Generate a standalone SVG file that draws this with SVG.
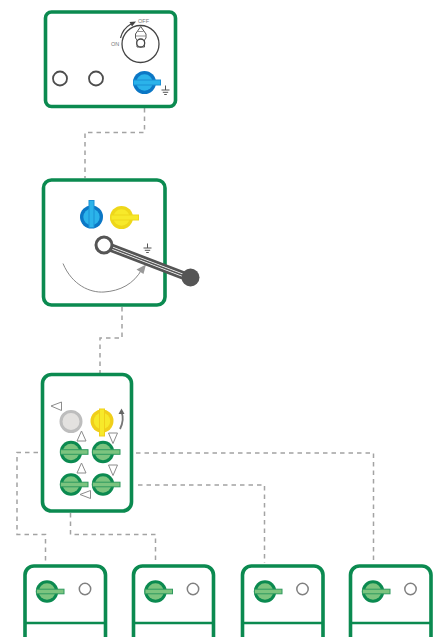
<svg xmlns="http://www.w3.org/2000/svg" width="436" height="637" viewBox="0 0 436 637">
<style>
.box{fill:#fff;stroke:#0b8a50;stroke-width:3.600}
.rule{fill:none;stroke:#0b8a50;stroke-width:2.400}
.conn{fill:none;stroke:#a3a3a3;stroke-width:1.500;stroke-dasharray:4.500 4}
.lamp{fill:#fff;stroke:#4d4d4d;stroke-width:1.800}
.lampg{fill:#fff;stroke:#808080;stroke-width:1.500}
.tri{fill:#fff;stroke:#8c8c8c;stroke-width:1;stroke-linejoin:round}
.ln{fill:none;stroke:#555;stroke-width:1}
.lab{font-family:"Liberation Sans",Arial,sans-serif;font-size:5.500px;fill:#777}
</style>
<defs>
<g id="gsw"><circle r="11.200" fill="#0b8a50"/><circle r="8.200" fill="#7cc47f"/><rect x="-10.500" y="-2.300" width="27.500" height="4.600" fill="#7cc47f" stroke="#2f9a5f" stroke-width="1"/></g>
<g id="earth" class="ln"><path d="M0-4.500V0M-4 0H4M-2.700 2.300H2.700M-1.300 4.500H1.300"/></g>
</defs>
<g id="connectors">
<path class="conn" d="M144.500 108V132.500H85V178"/>
<path class="conn" d="M122 307V338H100V373"/>
<path class="conn" d="M38 452.500H17V534.500H45.500V563"/>
<path class="conn" d="M70.500 513V534.500H155.500V563"/>
<path class="conn" d="M138 485H264.500V563"/>
<path class="conn" d="M136 453H373.500V563"/>
</g>
<g id="node-top">
<rect class="box" x="45.500" y="12" width="130" height="94.500" rx="6"/>
<circle cx="140.500" cy="44" r="18.500" fill="#fff" stroke="#444" stroke-width="1.300"/>
<path d="M135.500 34 140.700 26.500 146 34V38L144.500 40V47H137V40L135.500 38Z" fill="#fff" stroke="#555" stroke-width="1"/>
<path d="M138 31.500H143.500M136 36H145.500" stroke="#777" stroke-width=".8"/>
<circle cx="140.700" cy="43" r="4" fill="#fff" stroke="#444" stroke-width="1.300"/>
<path d="M120.500 38A22 22 0 0 1 131 24" fill="none" stroke="#444" stroke-width="1.200"/>
<path d="M136 21.500 129.500 22 132 26.500Z" fill="#444"/>
<text class="lab" x="138" y="23">OFF</text>
<text class="lab" x="111" y="45.500">ON</text>
<circle class="lamp" cx="60" cy="78.500" r="7"/>
<circle class="lamp" cx="96" cy="78.500" r="7"/>
<circle cx="144.500" cy="82.500" r="11.500" fill="#0b77c5"/>
<circle cx="144.500" cy="82.500" r="8.200" fill="#2bb3ea"/>
<rect x="133.500" y="80" width="27" height="5" fill="#2bb3ea" stroke="#1a90d4" stroke-width="1"/>
<use href="#earth" x="165.500" y="90"/>
</g>
<g id="node-middle">
<rect class="box" x="43.500" y="180" width="121.500" height="125" rx="8"/>
<circle cx="91.500" cy="217" r="11.500" fill="#0b77c5"/>
<circle cx="91.500" cy="217" r="8.200" fill="#2bb3ea"/>
<rect x="89" y="200.500" width="5" height="27" fill="#2bb3ea" stroke="#1a90d4" stroke-width="1"/>
<circle cx="121.500" cy="217.500" r="11.500" fill="#eed71a"/>
<circle cx="121.500" cy="217.500" r="8.200" fill="#f7e92a"/>
<rect x="111" y="215" width="27.500" height="5" fill="#f7e92a" stroke="#eed71a" stroke-width="1"/>
<path d="M63 263.500C72 285 90 293 104 292C120 291 134 284 142 269" fill="none" stroke="#888" stroke-width="1"/>
<path d="M146 264.500 136.500 269.500 143.500 274Z" fill="#999"/>
<path d="M104 245 190 278" stroke="#555" stroke-width="8.500" fill="none"/>
<path d="M104 245 190 278" stroke="#fff" stroke-width="3" fill="none"/>
<path d="M104 245 190 278" stroke="#555" stroke-width="1.500" fill="none"/>
<circle cx="104" cy="245" r="8" fill="#fff" stroke="#555" stroke-width="3"/>
<circle cx="190.500" cy="277.500" r="9" fill="#555"/>
<use href="#earth" x="147.500" y="248"/>
</g>
<g id="node-lower">
<rect class="box" x="42.500" y="374.500" width="89" height="136.500" rx="9"/>
<circle cx="71" cy="421.500" r="10" fill="#e3e1df" stroke="#bdbdbd" stroke-width="3"/>
<circle cx="102" cy="421" r="11.500" fill="#f0cf1a"/>
<circle cx="102" cy="421" r="8.200" fill="#f7e92a"/>
<rect x="99.500" y="409" width="5" height="27" fill="#f7e92a" stroke="#f0cf1a" stroke-width="1"/>
<use href="#gsw" x="71" y="452"/>
<use href="#gsw" x="103" y="452"/>
<use href="#gsw" x="71" y="484.500"/>
<use href="#gsw" x="103" y="484.500"/>
<path class="tri" d="M51 406 61.500 402V410.500Z"/>
<path class="tri" d="M81.500 431 86 441H77Z"/>
<path class="tri" d="M108.500 433H117.500L113 443.500Z"/>
<path class="tri" d="M81.500 463 86 473H77Z"/>
<path class="tri" d="M108.500 465H117.500L113 475.500Z"/>
<path class="tri" d="M80 494.500 90.500 490.500V498.500Z"/>
<path d="M120 429C123.500 422 123.500 417 121.500 412" fill="none" stroke="#777" stroke-width="1.800"/>
<path d="M121.500 408.500 118.500 414H124.500Z" fill="#666"/>
</g>
<g id="node-b1">
<path class="box" d="M25 637V575A9 9 0 0 1 34 566H96.500A9 9 0 0 1 105.500 575V637"/>
<path class="rule" d="M25 623H105.500"/>
<use href="#gsw" x="47" y="591.500"/>
<circle class="lampg" cx="85" cy="589" r="5.700"/>
</g>
<g id="node-b2">
<path class="box" d="M133.500 637V575A9 9 0 0 1 142.500 566H204.500A9 9 0 0 1 213.500 575V637"/>
<path class="rule" d="M133.500 623H213.500"/>
<use href="#gsw" x="155.500" y="591.500"/>
<circle class="lampg" cx="193" cy="589" r="5.700"/>
</g>
<g id="node-b3">
<path class="box" d="M242.500 637V575A9 9 0 0 1 251.500 566H314A9 9 0 0 1 323 575V637"/>
<path class="rule" d="M242.500 623H323"/>
<use href="#gsw" x="265" y="591.500"/>
<circle class="lampg" cx="302.500" cy="589" r="5.700"/>
</g>
<g id="node-b4">
<path class="box" d="M350.500 637V575A9 9 0 0 1 359.500 566H422A9 9 0 0 1 431 575V637"/>
<path class="rule" d="M350.500 623H431"/>
<use href="#gsw" x="373" y="591.500"/>
<circle class="lampg" cx="410.500" cy="589" r="5.700"/>
</g>
</svg>
